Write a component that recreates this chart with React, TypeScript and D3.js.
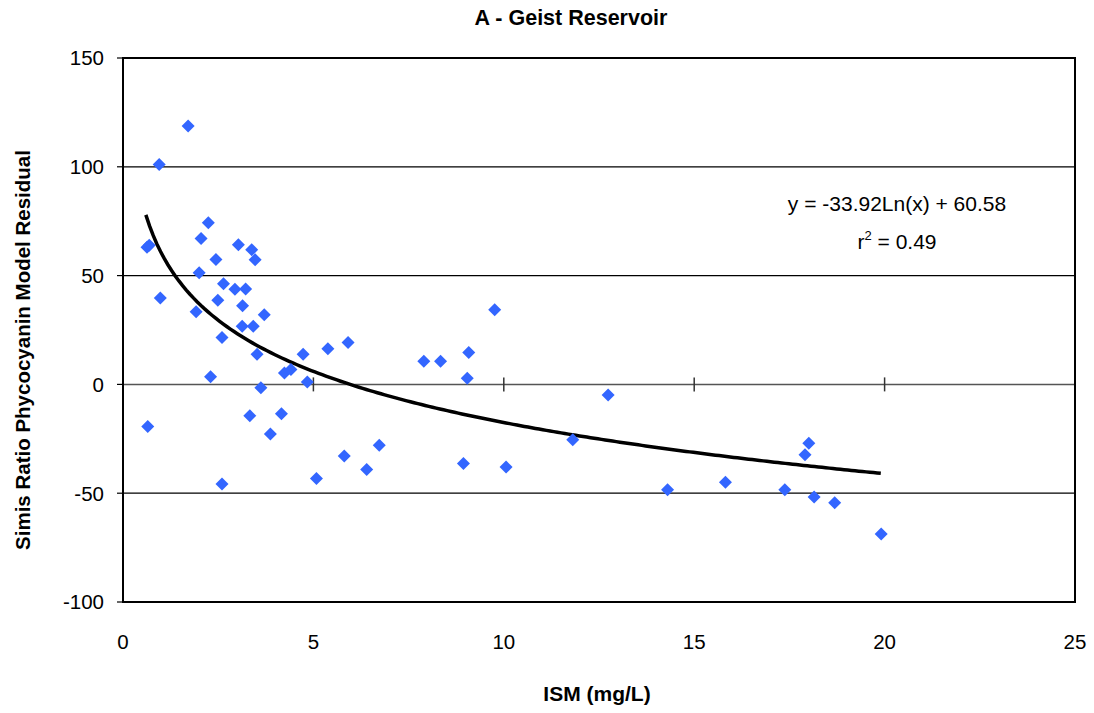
import React from "react";
import * as d3 from "d3";

const ismX = [0.65, 0.63, 0.69, 0.95, 0.98, 1.71, 1.92, 2.0, 2.05, 2.24, 2.3, 2.44, 2.49, 2.6, 2.6, 2.64, 2.94, 3.03, 3.13, 3.14, 3.22, 3.33, 3.38, 3.42, 3.47, 3.52, 3.62, 3.71, 3.87, 4.16, 4.24, 4.41, 4.73, 4.84, 5.08, 5.38, 5.81, 5.91, 6.4, 6.73, 7.9, 8.34, 8.94, 9.04, 9.08, 9.76, 10.06, 11.81, 12.74, 14.3, 15.82, 17.38, 17.91, 18.01, 18.15, 18.69, 19.91];
const residualY = [-19.3, 63.0, 63.9, 101.0, 39.7, 118.7, 33.4, 51.3, 67.0, 74.3, 3.5, 57.4, 38.7, 21.5, -45.8, 46.3, 43.7, 64.2, 26.7, 36.2, 43.8, -14.4, 61.9, 26.7, 57.3, 13.8, -1.5, 32.0, -22.8, -13.5, 5.2, 6.8, 13.8, 1.1, -43.3, 16.4, -32.9, 19.2, -39.1, -28.0, 10.6, 10.6, -36.4, 2.8, 14.7, 34.3, -38.0, -25.4, -4.9, -48.4, -45.0, -48.4, -32.3, -27.1, -51.8, -54.4, -68.8];

const xTicks = [0, 5, 10, 15, 20, 25];
const yTicks = [-100, -50, 0, 50, 100, 150];
const trendSlope = -33.92;
const trendIntercept = 60.58;
const trendRange = [0.6, 19.9];

const title = "A - Geist Reservoir";
const xLabel = "ISM (mg/L)";
const yLabel = "Simis Ratio Phycocyanin Model Residual";

export default function App() {
  const W = 1094, H = 713;
  const L = 123, R = 1075, T = 58, B = 602;
  const x = d3.scaleLinear().domain([0, 25]).range([L, R]);
  const y = d3.scaleLinear().domain([-100, 150]).range([B, T]);
  const font = "'Liberation Sans', Arial, sans-serif";

  const trendPts: [number, number][] = d3.range(0, 201).map((i) => {
    const xv = trendRange[0] + (trendRange[1] - trendRange[0]) * (i / 200);
    return [xv, trendSlope * Math.log(xv) + trendIntercept];
  });
  const line = d3.line<[number, number]>().x((d) => x(d[0])).y((d) => y(d[1]));
  const diamond = (cx: number, cy: number, r: number) =>
    `M${cx},${cy - r}L${cx + r},${cy}L${cx},${cy + r}L${cx - r},${cy}Z`;

  return (
    <svg width={W} height={H} style={{ position: "absolute", left: 0, top: 0, background: "#fff" }}>
      <rect x={0} y={0} width={W} height={H} fill="#fff" />
      <text x={571} y={25} textAnchor="middle" fontFamily={font} fontWeight="bold" fontSize={21.5}>{title}</text>
      {yTicks.filter((t) => t !== -100 && t !== 150).map((t) => (
        <line key={"g" + t} x1={L} x2={R} y1={y(t)} y2={y(t)} stroke={t === 0 ? "#555" : "#000"} strokeWidth={t === 0 ? 1.5 : 1.2} />
      ))}
      {xTicks.filter((t) => t > 0 && t < 25).map((t) => (
        <line key={"xt" + t} x1={x(t)} x2={x(t)} y1={y(0) - 7} y2={y(0) + 7} stroke="#333" strokeWidth={1.5} />
      ))}
      <rect x={L} y={T} width={R - L} height={B - T} fill="none" stroke="#000" strokeWidth={2} />
      {yTicks.map((t) => (
        <g key={"yt" + t}>
          <line x1={L - 6} x2={L} y1={y(t)} y2={y(t)} stroke="#000" strokeWidth={1.2} />
          <text x={104} y={y(t)} dy="0.36em" textAnchor="end" fontFamily={font} fontSize={20.5}>{t}</text>
        </g>
      ))}
      {xTicks.map((t) => (
        <text key={"xl" + t} x={x(t)} y={649} textAnchor="middle" fontFamily={font} fontSize={20.5}>{t}</text>
      ))}
      <path d={line(trendPts) || ""} fill="none" stroke="#000" strokeWidth={3.5} />
      {ismX.map((xv, i) => (
        <path key={"p" + i} d={diamond(x(xv), y(residualY[i]), 6.5)} fill="#3366FF" />
      ))}
      <text x={897} y={211} textAnchor="middle" fontFamily={font} fontSize={21}>y = -33.92Ln(x) + 60.58</text>
      <text x={897} y={249} textAnchor="middle" fontFamily={font} fontSize={21}>
        r<tspan dy={-9} fontSize={13}>2</tspan><tspan dy={9}> = 0.49</tspan>
      </text>
      <text x={597} y={701} textAnchor="middle" fontFamily={font} fontWeight="bold" fontSize={21}>{xLabel}</text>
      <text transform={`translate(30,${(T + B) / 2 + 20}) rotate(-90)`} textAnchor="middle" fontFamily={font} fontWeight="bold" fontSize={20.5}>{yLabel}</text>
    </svg>
  );
}
